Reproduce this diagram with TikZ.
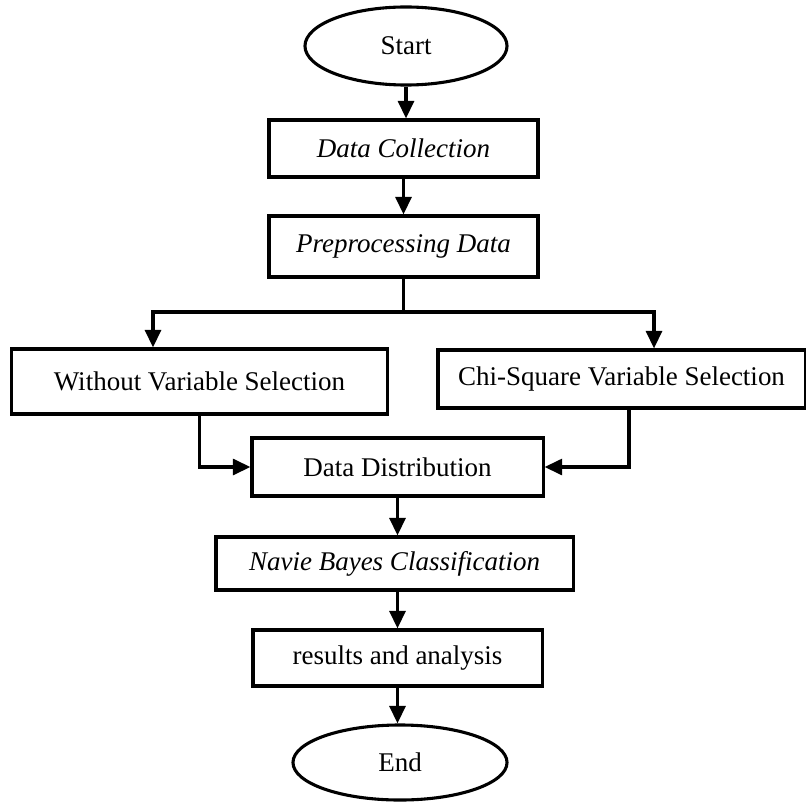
\documentclass[tikz,border=0pt]{standalone}
\usepackage{fontspec}
\setmainfont{Liberation Serif}
\usepackage{tikz}
\usetikzlibrary{calc,arrows.meta,shapes.geometric}
\tikzset{
  box/.style={draw=black, line width=2.2pt, rectangle, inner sep=0pt, align=center, font=\fontsize{19.2}{23}\selectfont},
  term/.style={draw=black, line width=2.2pt, ellipse, inner sep=0pt, font=\fontsize{19.2}{23}\selectfont},
  arr/.style={draw=black, line width=2.2pt, -{Triangle[length=4.4mm,width=4mm]}},
}

\begin{document}
\begin{tikzpicture}[x=0.025cm, y=-0.025cm]
  \useasboundingbox (0,0) rectangle (806,801);
  % steps, top to bottom
  \node[term, minimum width=5.05cm, minimum height=1.95cm] (start) at (406,46) {Start};
  \node[box, minimum width=6.725cm, minimum height=1.425cm] (collect) at (403.5,148.5) {\itshape Data Collection};
  \node[box, minimum width=6.725cm, minimum height=1.525cm] (prep) at (403.5,246.5) {\itshape Preprocessing Data};
  \node[box, minimum width=9.375cm, minimum height=1.625cm] (nosel) at (199.5,381.5) {Without Variable Selection};
  \node[box, minimum width=9.175cm, minimum height=1.45cm] (chisel) at (621.5,379) {Chi-Square Variable Selection};
  \node[box, minimum width=7.275cm, minimum height=1.45cm] (distr) at (397.5,467) {Data Distribution};
  \node[box, minimum width=8.925cm, minimum height=1.325cm] (bayes) at (394.5,563.5) {\itshape Navie Bayes Classification};
  \node[box, minimum width=7.225cm, minimum height=1.4cm] (result) at (397.5,658) {results and analysis};
  \node[term, minimum width=5.35cm, minimum height=1.875cm] (end) at (400,762.5) {End};
  % split points
  \coordinate (split) at (403.5,312);
  \coordinate (ldrop) at (153,312);
  \coordinate (rdrop) at (654,312);
  % connectors
  \draw[arr] (start.south) -- (start.south |- collect.north);
  \draw[arr] (collect.south) -- (prep.north);
  \draw[line width=2.2pt] (prep.south) -- (split);
  \draw[arr] (split) -| (nosel.north -| ldrop);
  \draw[arr] (split) -| (chisel.north -| rdrop);
  \draw[arr] (nosel.south) |- (distr.west);
  \draw[arr] ($(chisel.south)+(7.5,0)$) |- (distr.east);
  \draw[arr] (distr.south) -- (distr.south |- bayes.north);
  \draw[arr] (bayes.south -| result.north) -- (result.north);
  \draw[arr] (result.south) -- (result.south |- end.north);
\end{tikzpicture}
\end{document}
